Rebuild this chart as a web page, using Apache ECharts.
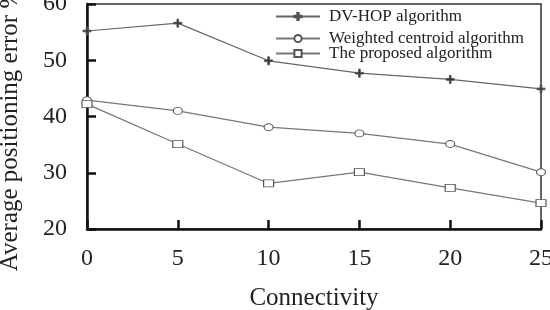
<!DOCTYPE html>
<html>
<head>
<meta charset="utf-8">
<script src="https://cdn.jsdelivr.net/npm/echarts@6/dist/echarts.min.js"></script>
<style>
  html, body { margin: 0; padding: 0; background: #fff; }
  #chart { width: 550px; height: 310px; }
</style>
</head>
<body>
<div id="chart"></div>
<script>
let connectivity = [0, 5, 10, 15, 20, 25]
let dvHop = [55.2, 56.6, 49.9, 47.7, 46.6, 44.9]
let weightedCentroid = [42.9, 41.0, 38.1, 37.0, 35.1, 30.1]
let proposed = [42.2, 35.1, 28.1, 30.1, 27.3, 24.6]
let seriesNames = ['DV-HOP algorithm', 'Weighted centroid algorithm', 'The proposed algorithm']

let font = '"Liberation Serif", "Times New Roman", serif'
let lineColor = '#777'
let plusIcon = 'path://M4,0 L6,0 L6,4 L10,4 L10,6 L6,6 L6,10 L4,10 L4,6 L0,6 L0,4 L4,4 Z'

function toPairs(values) {
  return connectivity.map((x, i) => [x, values[i]])
}

let chart = echarts.init(document.getElementById('chart'))

function makeSeries(name, values, symbol, size, fill, color) {
  return {
    name: name,
    type: 'line',
    data: toPairs(values),
    symbol: symbol,
    symbolSize: size,
    showAllSymbol: true,
    lineStyle: { color: color, width: 1.2 },
    itemStyle: { color: fill, borderColor: '#555', borderWidth: 1 },
    emphasis: { disabled: true },
    animation: false
  }
}

function makeLegend(name, top) {
  return {
    data: [name],
    left: 275,
    top: top,
    itemWidth: 44,
    itemHeight: 9,
    itemGap: 4,
    padding: 0,
    textStyle: { fontFamily: font, fontSize: 17, color: '#222', padding: [0, 0, 0, 4] }
  }
}

let option = {
  backgroundColor: '#fff',
  grid: {
    left: 87, right: 9, top: 4, bottom: 81,
    containLabel: false,
    outerBoundsMode: 'none',
    show: true,
    borderColor: '#333',
    borderWidth: 1.5
  },
  legend: [
    makeLegend(seriesNames[0], 8),
    makeLegend(seriesNames[1], 30),
    makeLegend(seriesNames[2], 45)
  ],
  xAxis: {
    type: 'value',
    min: 0, max: 25, interval: 5,
    name: 'Connectivity',
    nameLocation: 'middle',
    nameGap: 57,
    nameTextStyle: { fontFamily: font, fontSize: 25, color: '#222' },
    axisLine: { lineStyle: { color: '#111', width: 2.5 } },
    axisTick: { inside: true, length: 9, lineStyle: { color: '#111', width: 2.5 } },
    axisLabel: { fontFamily: font, fontSize: 24, color: '#222', margin: 18 },
    splitLine: { show: false }
  },
  yAxis: {
    type: 'value',
    min: 20, max: 60, interval: 10,
    name: 'Average positioning error %',
    nameLocation: 'middle',
    nameGap: 64,
    nameTextStyle: { fontFamily: font, fontSize: 25, color: '#222', padding: [0, 26, 0, 0] },
    axisLine: { lineStyle: { color: '#111', width: 2.5 } },
    axisTick: { inside: true, length: 9, lineStyle: { color: '#111', width: 2.5 } },
    axisLabel: { fontFamily: font, fontSize: 24, color: '#222', margin: 20 },
    splitLine: { show: false }
  },
  series: [
    makeSeries(seriesNames[0], dvHop, plusIcon, 8, '#333', '#666'),
    makeSeries(seriesNames[1], weightedCentroid, 'circle', [9, 7], '#fff', lineColor),
    makeSeries(seriesNames[2], proposed, 'rect', [10, 7], '#fff', lineColor)
  ]
}
chart.setOption(option)
</script>
</body>
</html>
